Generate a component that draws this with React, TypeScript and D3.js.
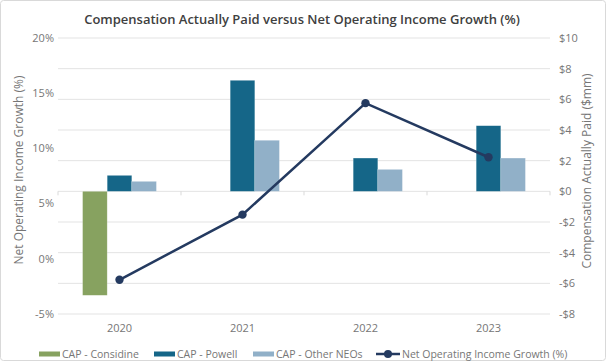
import React, { useEffect, useRef } from "react";
import * as d3 from "d3";

const years = ["2020", "2021", "2022", "2023"];
const capConsidine: (number | null)[] = [-6.78, null, null, null];
const capPowell = [1.04, 7.24, 2.17, 4.28];
const capOtherNeos = [0.65, 3.33, 1.43, 2.17];
const noiGrowth = [-1.9, 4.0, 14.1, 9.2];
const leftTicks = [-5, 0, 5, 10, 15, 20];
const rightTicks = [-8, -6, -4, -2, 0, 2, 4, 6, 8, 10];

const seriesNames = ["CAP - Considine", "CAP - Powell", "CAP - Other NEOs"];
const colors = ["#87a260", "#156688", "#91b0c8"];
const lineColor = "#243a60";
const textGrey = "#767676";

const App = () => {
  const svgRef = useRef<SVGSVGElement>(null);

  useEffect(() => {
    const svg = d3.select(svgRef.current);
    const width = 606;
    const height = 361;
    const font = "'Open Sans', sans-serif";
    svg.selectAll("*").remove();

    // chart frame
    svg.append("rect")
      .attr("x", 0.5).attr("y", 0.5)
      .attr("width", width - 1).attr("height", height - 1)
      .attr("rx", 3)
      .attr("fill", "#fff")
      .attr("stroke", "#d9d9d9");

    const plot = { left: 58, right: 550, top: 38, bottom: 314 };

    const x = d3.scaleBand().domain(years).range([plot.left, plot.right]);
    const xSub = d3
      .scaleBand()
      .domain(seriesNames)
      .range([x.bandwidth() * 0.2, x.bandwidth() * 0.8]);
    const yLeft = d3.scaleLinear().domain([-5, 20]).range([plot.bottom, plot.top]);
    const yRight = d3.scaleLinear().domain([-8, 10]).range([plot.bottom, plot.top]);

    // gridlines (from the right axis)
    svg.append("g")
      .selectAll("line")
      .data(rightTicks)
      .enter()
      .append("line")
      .attr("x1", plot.left).attr("x2", plot.right)
      .attr("y1", (d) => yRight(d)).attr("y2", (d) => yRight(d))
      .attr("stroke", "#e3e3e3")
      .attr("stroke-width", 1);

    // category ticks on the zero line
    svg.append("g")
      .selectAll("line")
      .data(d3.range(years.length + 1))
      .enter()
      .append("line")
      .attr("x1", (i) => plot.left + i * x.step())
      .attr("x2", (i) => plot.left + i * x.step())
      .attr("y1", yRight(0))
      .attr("y2", yRight(0) + 4)
      .attr("stroke", "#d9d9d9");

    // bars
    const seriesValues = [capConsidine, capPowell, capOtherNeos];
    seriesValues.forEach((vals, si) => {
      svg.append("g")
        .selectAll("rect")
        .data(vals.map((v, i) => ({ year: years[i], v })).filter((d) => d.v != null))
        .enter()
        .append("rect")
        .attr("x", (d) => (x(d.year) as number) + (xSub(seriesNames[si]) as number))
        .attr("width", xSub.bandwidth())
        .attr("y", (d) => yRight(Math.max(0, d.v as number)))
        .attr("height", (d) => Math.abs(yRight(d.v as number) - yRight(0)))
        .attr("fill", colors[si])
        .attr("stroke", "#ffffff")
        .attr("stroke-opacity", 0.35)
        .attr("stroke-width", 0.6);
    });

    // line
    const line = d3
      .line<number>()
      .x((_, i) => (x(years[i]) as number) + x.bandwidth() / 2)
      .y((d) => yLeft(d));
    svg.append("path")
      .datum(noiGrowth)
      .attr("d", line)
      .attr("fill", "none")
      .attr("stroke", lineColor)
      .attr("stroke-width", 2.5);
    svg.append("g")
      .selectAll("circle")
      .data(noiGrowth)
      .enter()
      .append("circle")
      .attr("cx", (_, i) => (x(years[i]) as number) + x.bandwidth() / 2)
      .attr("cy", (d) => yLeft(d))
      .attr("r", 4.2)
      .attr("fill", lineColor);

    // left axis labels
    svg.append("g")
      .selectAll("text")
      .data(leftTicks)
      .enter()
      .append("text")
      .attr("x", 54)
      .attr("y", (d) => yLeft(d))
      .attr("dy", "0.35em")
      .attr("text-anchor", "end")
      .attr("font-family", font)
      .attr("font-size", 11)
      .attr("fill", textGrey)
      .text((d) => `${d}%`);

    // right axis labels
    svg.append("g")
      .selectAll("text")
      .data(rightTicks)
      .enter()
      .append("text")
      .attr("x", 559)
      .attr("y", (d) => yRight(d))
      .attr("dy", "0.35em")
      .attr("font-family", font)
      .attr("font-size", 11)
      .attr("fill", textGrey)
      .text((d) => (d < 0 ? `-$${-d}` : `$${d}`));

    // x axis labels
    svg.append("g")
      .selectAll("text")
      .data(years)
      .enter()
      .append("text")
      .attr("x", (d) => (x(d) as number) + x.bandwidth() / 2)
      .attr("y", 328)
      .attr("dy", "0.35em")
      .attr("text-anchor", "middle")
      .attr("font-family", font)
      .attr("font-size", 11)
      .attr("fill", textGrey)
      .text((d) => d);

    // title
    svg.append("text")
      .attr("x", 302)
      .attr("y", 19)
      .attr("dy", "0.35em")
      .attr("text-anchor", "middle")
      .attr("font-family", font)
      .attr("font-size", 13)
      .attr("font-weight", 600)
      .attr("fill", "#404040")
      .text("Compensation Actually Paid versus Net Operating Income Growth (%)");

    // axis titles
    svg.append("text")
      .attr("transform", "translate(19,170) rotate(-90)")
      .attr("dy", "0.35em")
      .attr("text-anchor", "middle")
      .attr("font-family", font)
      .attr("font-size", 12)
      .attr("fill", textGrey)
      .text("Net Operating Income Growth (%)");
    svg.append("text")
      .attr("transform", "translate(587,171) rotate(-90)")
      .attr("dy", "0.35em")
      .attr("text-anchor", "middle")
      .attr("font-family", font)
      .attr("font-size", 12)
      .attr("fill", textGrey)
      .text("Compensation Actually Paid ($mm)");

    // legend
    const legendY = 354;
    const legendItems = [
      { name: seriesNames[0], x: 39, color: colors[0], type: "bar" },
      { name: seriesNames[1], x: 154, color: colors[1], type: "bar" },
      { name: seriesNames[2], x: 253, color: colors[2], type: "bar" },
      { name: "Net Operating Income Growth (%)", x: 376, color: lineColor, type: "line" },
    ];
    const lg = svg.append("g");
    legendItems.forEach((item) => {
      if (item.type === "bar") {
        lg.append("rect")
          .attr("x", item.x).attr("y", legendY - 2.5)
          .attr("width", 21).attr("height", 5)
          .attr("fill", item.color);
      } else {
        lg.append("line")
          .attr("x1", item.x).attr("x2", item.x + 24)
          .attr("y1", legendY).attr("y2", legendY)
          .attr("stroke", item.color).attr("stroke-width", 2.5);
        lg.append("circle")
          .attr("cx", item.x + 12).attr("cy", legendY)
          .attr("r", 4).attr("fill", item.color);
      }
      lg.append("text")
        .attr("x", item.x + (item.type === "bar" ? 23 : 26))
        .attr("y", legendY)
        .attr("dy", "0.35em")
        .attr("font-family", font)
        .attr("font-size", 10.5)
        .attr("fill", textGrey)
        .text(item.name);
    });
  }, []);

  return (
    <svg
      ref={svgRef}
      width={606}
      height={361}
      style={{ position: "absolute", left: 0, top: 0 }}
    ></svg>
  );
};

export default App;
